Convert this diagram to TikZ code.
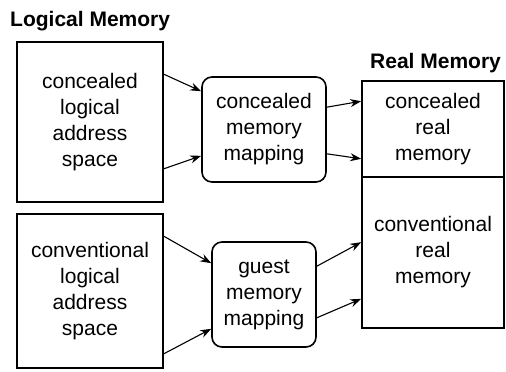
\documentclass[tikz,border=0pt]{standalone}
\usepackage{fontspec}
\setmainfont{Liberation Sans}
\usetikzlibrary{arrows.meta}
\begin{document}
\begin{tikzpicture}[x=1pt,y=-1pt,
  box/.style={draw,line width=1.6pt,align=center,inner sep=0pt,
    font=\fontsize{21}{26}\selectfont},
  mapbox/.style={box,rounded corners=10pt},
  title/.style={font=\bfseries\fontsize{21}{26}\selectfont,inner sep=0pt,anchor=base west},
  arr/.style={line width=1.1pt,-{Stealth[length=11pt,width=8pt]}}]
\useasboundingbox (0,0) rectangle (506,372);
\node[title] (tl) at (10,27) {Logical Memory};
\node[title] (tr) at (370,68) {Real Memory};
\node[box,minimum width=146pt,minimum height=160pt] (L1) at (90,122) {concealed\\logical\\address\\space};
\node[box,minimum width=146pt,minimum height=154pt] (L2) at (90,291) {conventional\\logical\\address\\space};
\node[mapbox,minimum width=124pt,minimum height=105pt] (M1) at (264,129.5) {concealed\\memory\\mapping};
\node[mapbox,minimum width=104pt,minimum height=105pt] (M2) at (264,294.5) {guest\\memory\\mapping};
\node[box,minimum width=142pt,minimum height=96pt] (R1) at (433,129) {concealed\\real\\memory};
\node[box,minimum width=142pt,minimum height=151pt] (R2) at (433,252.5) {conventional\\real\\memory};
\draw[arr] ([yshift=-33pt]L1.north east) -- ([yshift=-15pt]M1.north west);
\draw[arr] ([yshift=34pt]L1.south east) -- ([yshift=27pt]M1.south west);
\draw[arr] ([yshift=-31pt]M1.north east) -- ([yshift=-21pt]R1.north west);
\draw[arr] ([yshift=29pt]M1.south east) -- ([yshift=19pt]R1.south west);
\draw[arr] ([yshift=-23pt]L2.north east) -- ([yshift=-22pt]M2.north west);
\draw[arr] ([yshift=15pt]L2.south east) -- ([yshift=19pt]M2.south west);
\draw[arr] ([yshift=-25pt]M2.north east) -- ([yshift=-66pt]R2.north west);
\draw[arr] ([yshift=30pt]M2.south east) -- ([yshift=30pt]R2.south west);
\end{tikzpicture}
\end{document}
